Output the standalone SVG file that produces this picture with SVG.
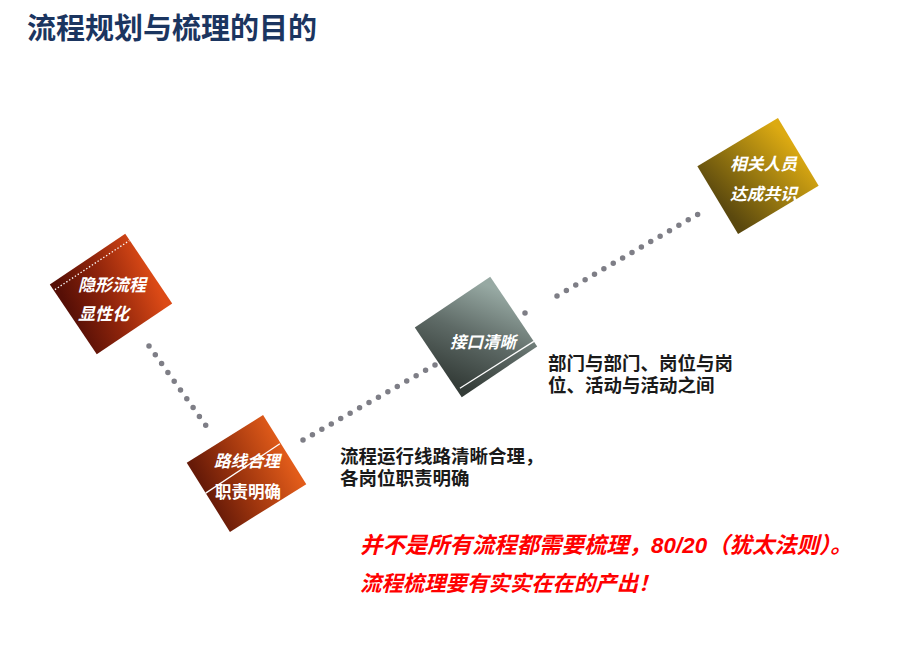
<svg xmlns="http://www.w3.org/2000/svg" width="920" height="651" viewBox="0 0 920 651">
<defs>
<linearGradient id="gRed1" x1="0" y1="0.4" x2="1" y2="0.6">
<stop offset="0" stop-color="#560f06"/>
<stop offset="0.45" stop-color="#8e240b"/>
<stop offset="1" stop-color="#dc4a16"/>
</linearGradient>
<linearGradient id="gRed2" x1="0" y1="0.45" x2="1" y2="0.55">
<stop offset="0" stop-color="#661a08"/>
<stop offset="0.45" stop-color="#a0360e"/>
<stop offset="1" stop-color="#e25c1a"/>
</linearGradient>
<linearGradient id="gGrey" x1="0" y1="0.8" x2="1" y2="0.2">
<stop offset="0" stop-color="#343c38"/>
<stop offset="0.5" stop-color="#5e6a66"/>
<stop offset="1" stop-color="#97a9a3"/>
</linearGradient>
<linearGradient id="gGold" x1="0" y1="0.6" x2="1" y2="0.4">
<stop offset="0" stop-color="#5a480e"/>
<stop offset="0.5" stop-color="#9a7a10"/>
<stop offset="1" stop-color="#dcaa12"/>
</linearGradient>
</defs>
<style>
.t{font-family:"Liberation Sans","Noto Sans CJK SC",sans-serif;font-weight:bold}
.title{font-size:29px;fill:#1b3560}
.nt{font-size:17px;fill:#ffffff}
.it{font-style:italic}
.desc{font-size:18.5px;fill:#1a1a1a}
.red{font-size:21px;fill:#ff0000;font-style:italic}
.dot{stroke:#7e7e86;stroke-width:5.5;stroke-linecap:round;fill:none}
.wl{stroke:#ffffff;stroke-width:1.3;fill:none}
</style>
<rect width="920" height="651" fill="#ffffff"/>
<text class="t title" x="27" y="39">流程规划与梳理的目的</text>

<g id="connectors">
<line class="dot" x1="149" y1="346" x2="212" y2="434" stroke-dasharray="0 10.823"/>
<line class="dot" x1="303" y1="440" x2="435" y2="365" stroke-dasharray="0 10.844"/>
<line class="dot" x1="525" y1="313" x2="534" y2="308" stroke-dasharray="0 10.296"/>
<line class="dot" x1="557" y1="296" x2="707" y2="209" stroke-dasharray="0 10.838"/>
</g>

<g id="node1">
<g transform="translate(111 294) rotate(-34)">
<rect x="-45.5" y="-42" width="91" height="84" fill="url(#gRed1)"/>
<line class="wl" x1="-44" y1="-35" x2="45" y2="-34" stroke-dasharray="1.4 2" stroke-width="1.4"/>
</g>
<text class="t nt it" x="78" y="290.5">隐形流程</text>
<text class="t nt it" x="78" y="320">显性化</text>
</g>

<g id="node2">
<g transform="translate(246.5 473.5) rotate(-32)">
<rect x="-45" y="-40.75" width="90" height="81.5" fill="url(#gRed2)"/>
<line class="wl" x1="-45" y1="-5" x2="44" y2="-7.5"/>
</g>
<text class="t nt it" x="214" y="466.5" style="font-size:16.5px">路线合理</text>
<text class="t nt" x="215" y="498" style="font-size:16.5px">职责明确</text>
</g>

<g id="node3">
<g transform="translate(476 337) rotate(-34)">
<rect x="-45.5" y="-42" width="91" height="84" fill="url(#gGrey)"/>
<line class="wl" x1="-42" y1="33.5" x2="45.5" y2="36"/>
</g>
<text class="t nt it" x="450" y="348" style="font-size:16.5px">接口清晰</text>
</g>

<g id="node4">
<g transform="translate(758 176) rotate(-31)">
<rect x="-47" y="-39.5" width="94" height="79" fill="url(#gGold)"/>
</g>
<text class="t nt it" x="730" y="170" style="font-size:16.75px">相关人员</text>
<text class="t nt it" x="730" y="200" style="font-size:16.75px">达成共识</text>
</g>

<text class="t desc" x="548" y="370">部门与部门、岗位与岗</text>
<text class="t desc" x="548" y="392">位、活动与活动之间</text>
<text class="t desc" x="340" y="463">流程运行线路清晰合理，</text>
<text class="t desc" x="340" y="485">各岗位职责明确</text>

<text class="t red" x="360" y="553" style="font-size:22.4px">并不是所有流程都需要梳理，80/20（犹太法则）。</text>
<text class="t red" x="360" y="591" style="font-size:21.4px">流程梳理要有实实在在的产出！</text>
</svg>
